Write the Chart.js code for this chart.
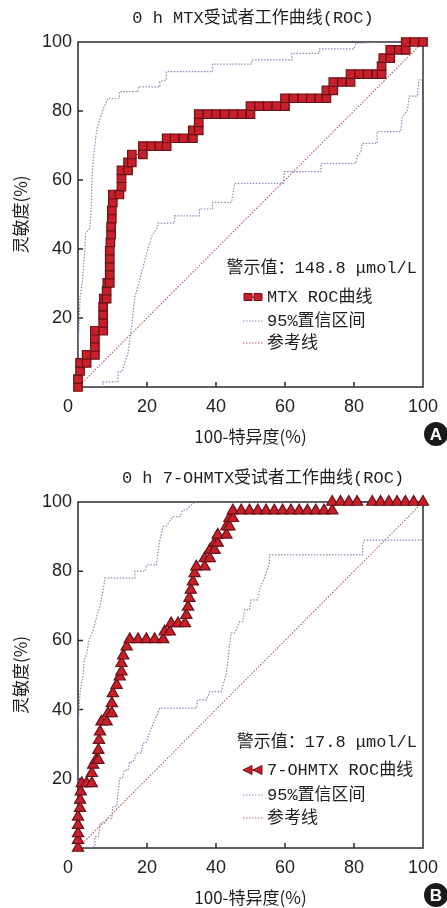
<!DOCTYPE html>
<html>
<head>
<meta charset="utf-8">
<script src="https://cdn.jsdelivr.net/npm/chart.js@4.4.1/dist/chart.umd.min.js"></script>
<style>
  body { margin: 0; background: #fff; }
  #wrap { width: 447px; height: 908px; }
  canvas { display: block; }
</style>
</head>
<body>
<div id="wrap">
  <canvas id="chartA" width="447" height="454"></canvas>
  <canvas id="chartB" width="447" height="454"></canvas>
</div>
<script>
// tick values (both axes, both panels)
const xTickValues = [0, 20, 40, 60, 80, 100];
const yTickValues = [0, 20, 40, 60, 80, 100];

// A: 0 h MTX  -- [100-specificity, sensitivity]
const mtxRoc = [[0,0],[0,2.3],[0.6,4.7],[0.6,7.0],[2.5,7.0],[2.5,9.3],[4.9,9.3],[4.9,11.6],[4.9,14.0],[4.9,16.3],
  [7.3,16.3],[7.3,18.6],[7.3,20.9],[7.3,23.3],[7.5,25.6],[8.3,25.6],[8.3,27.9],[8.5,30.2],[9.2,30.2],[9.2,32.6],
  [9.2,34.9],[9.2,37.2],[9.2,39.5],[9.4,41.9],[9.6,44.2],[9.6,46.5],[9.8,48.8],[9.8,51.2],[10.1,53.5],[10.1,55.8],
  [12.0,55.8],[12.6,58.1],[12.6,60.5],[12.6,62.8],[14.5,62.8],[14.5,65.1],[15.6,65.1],[15.6,67.4],[18.8,67.4],[18.8,69.8],
  [21.2,69.8],[23.6,69.8],[25.7,69.8],[25.7,72.1],[28.0,72.1],[30.6,72.1],[33.3,72.1],[33.3,74.4],[35.0,74.4],[35.0,76.7],
  [35.0,79.1],[37.5,79.1],[40.0,79.1],[42.5,79.1],[45.0,79.1],[47.5,79.1],[50.0,79.1],[50.0,81.4],[52.5,81.4],[55.0,81.4],
  [57.5,81.4],[60.0,81.4],[60.0,83.7],[62.5,83.7],[65.0,83.7],[67.5,83.7],[70.0,83.7],[72.0,83.7],[72.0,86.0],[74.0,86.0],
  [74.0,88.4],[76.5,88.4],[79.0,88.4],[79.0,90.7],[81.5,90.7],[84.0,90.7],[86.5,90.7],[88.0,90.7],[88.0,93.0],[88.5,95.3],
  [90.5,95.3],[90.5,97.7],[93.0,97.7],[95.0,97.7],[95.0,100],[97.5,100],[100,100]];
const mtxUpper = [[0,0],[0,10],[0.6,26],[1.2,30],[2,40],[2.2,44.6],[3.5,46],[3.9,54],[4,60],[4.4,65.8],[5.4,74.5],
  [7.2,80.3],[8.7,83.7],[12,83.7],[12,85.6],[17.4,85.6],[17.4,87],[23.7,87],[23.7,88.5],[25.6,89],[25.6,91.4],[39,91.4],
  [39,93.6],[50.4,93.6],[50.4,94.8],[62,94.8],[62,96.7],[70,96.7],[70,98],[80,98],[80.6,99.6],[88,100],[100,100]];
const mtxLower = [[0,0],[7.2,0],[7.2,1.5],[11.6,1.5],[11.6,4.4],[12.7,4.4],[14.5,9.8],[15.5,17.5],[16.5,26.2],[17.9,31],
  [19.9,38.8],[21.3,43.6],[23.2,46.5],[23.2,47.5],[28,47.5],[28,49.6],[35.2,49.6],[35.2,51.6],[39,51.6],[39,53.5],
  [44.5,53.5],[45.4,59],[59.5,59],[59.8,62.4],[70.4,62.4],[70.4,64.8],[80.5,64.8],[81,67],[82,68],[82.4,70.6],[86.7,70.6],
  [86.7,74],[93.5,74],[94,78.3],[95.5,80.3],[96,84.3],[98.4,84.3],[98.8,89],[100,89],[100,100]];

// B: 0 h 7-OHMTX
const ohRoc = [[0,0],[0,2.3],[0,4.2],[0,6.6],[0,9.0],[0.6,11.5],[0.6,13.9],[0.8,16.3],[1.1,18.7],[2.5,18.7],[4.0,18.7],
  [4.0,21.6],[4.4,24.0],[5.2,25.4],[5.9,25.4],[5.9,28.3],[6.1,31.2],[6.4,33.6],[6.8,36.5],[8.3,36.5],[8.7,38.9],[9.8,38.9],
  [9.8,41.8],[10.1,44.7],[11.2,47.1],[12.1,49.5],[12.6,51.0],[12.6,53.4],[13.1,55.6],[14.1,58.2],[15.0,60.3],[17.4,60.3],
  [19.8,60.3],[22.2,60.3],[24.7,60.3],[25.1,62.5],[26.6,62.5],[27.0,64.9],[29.0,64.9],[31.0,64.9],[31.4,67.3],[31.9,69.7],
  [32.3,72.2],[32.7,74.6],[33.3,77.0],[33.8,79.4],[34.3,81.3],[36.7,81.3],[36.7,83.7],[38.2,83.7],[38.2,86.1],[39.6,86.1],
  [39.6,88.2],[40.5,88.2],[40.5,90.5],[43.0,90.5],[43.0,92.9],[43.9,92.9],[43.9,95.3],[44.9,95.3],[44.9,97.5],[47.3,97.5],
  [49.7,97.5],[52.1,97.5],[54.5,97.5],[56.9,97.5],[59.3,97.5],[61.7,97.5],[64.1,97.5],[66.5,97.5],[68.9,97.5],[71.3,97.5],
  [73.7,97.5],[73.7,100],[76.1,100],[78.5,100],[80.9,100],[85.3,100],[87.7,100],[90.1,100],[92.5,100],[94.9,100],[97.3,100],[100,100]];
const ohUpper = [[0,0],[0,35],[0.6,45],[1.5,50],[1.8,54.3],[2.5,56],[3.2,60.1],[4.4,63],[5.4,66.8],[6.4,70],[7.3,74.6],
  [7.8,78],[16.5,78],[16.5,80],[19.4,80],[19.9,81.8],[22.7,81.8],[23.2,85.6],[23.7,89],[24.7,92.9],[25.6,93],[27.5,95.8],
  [29.5,95.8],[30.4,97.7],[31.3,97.7],[33.3,99.6],[34.3,100],[100,100]];
const ohLower = [[0,0],[3.5,0],[4.9,0.5],[4.9,3.3],[5.9,3.3],[6.4,7.2],[7.8,7.2],[8.7,8.6],[9.8,8.6],[10.1,12],[11.2,12],
  [11.7,16.8],[12.1,20.1],[12.8,20.1],[13.5,22.5],[14.5,22.5],[15,24.9],[16,24.9],[17,27.4],[18.4,27.4],[18.8,30.3],
  [19.7,30.3],[20.8,33.6],[22.3,37],[23.7,40.4],[34.3,40.4],[34.7,42.8],[37.2,42.8],[38.2,45.2],[41.5,45.2],[43,50.5],
  [43.9,58.2],[44.4,62.1],[45.4,62.1],[46.8,65.4],[47.7,65.4],[48.3,68.8],[49.7,68.8],[50.2,71.7],[52.1,71.7],[52.6,74.6],
  [53.6,77],[54.5,79.4],[55.5,82.3],[55.5,84.7],[82.5,84.7],[82.5,87.6],[83,89],[100,89]];

const refLine = [[0,0],[100,100]];

const legendLabels = ['95%置信区间', '参考线'];
const xTitle = '100-特异度(%)';
const yTitle = '灵敏度(%)';

// colours
const rocFill = '#c81f28';
const rocEdge = '#6a1119';
const rocLine = '#3b3a8a';
const ciColor = '#8a8bbb';
const refColor = '#b5605c';

const monoCjk = "'Liberation Mono', 'Noto Sans CJK SC', monospace";
const cjkFont = "'Noto Sans CJK SC', 'Liberation Sans', sans-serif";

const toPts = arr => arr.map(p => ({ x: p[0], y: p[1] }));

// box + inward ticks, titles, legend
const rocDecor = {
  id: 'rocDecor',
  beforeDatasetsDraw(chart) {
    const { ctx, chartArea: a } = chart;
    const xs = chart.scales.x, ys = chart.scales.y;
    ctx.save();
    ctx.strokeStyle = '#2a2a2a';
    ctx.lineWidth = 1.5;
    ctx.strokeRect(a.left, a.top, a.right - a.left, a.bottom - a.top);
    ctx.beginPath();
    xTickValues.forEach(v => {
      if (v <= 0 || v >= 100) return;
      const p = xs.getPixelForValue(v);
      ctx.moveTo(p, a.bottom); ctx.lineTo(p, a.bottom - 5);
    });
    yTickValues.forEach(v => {
      if (v <= 0 || v >= 100) return;
      const p = ys.getPixelForValue(v);
      ctx.moveTo(a.left, p); ctx.lineTo(a.left + 5, p);
    });
    ctx.stroke();
    ctx.restore();
  },
  afterDraw(chart, args, o) {
    const { ctx, chartArea: a } = chart;
    ctx.save();
    ctx.fillStyle = '#1e1e1e';
    ctx.textBaseline = 'middle';

    // title
    ctx.font = `17px ${monoCjk}`;
    ctx.textAlign = 'center';
    ctx.fillText(o.title, o.titleX, o.titleY);

    // axis titles
    ctx.font = `17px ${cjkFont}`;
    ctx.fillText(xTitle, (a.left + a.right) / 2, a.bottom + 50);
    ctx.save();
    ctx.translate(21, (a.top + a.bottom) / 2);
    ctx.rotate(-Math.PI / 2);
    ctx.fillText(yTitle, 0, 0);
    ctx.restore();

    // cut-off value
    ctx.font = `17px ${monoCjk}`;
    ctx.textAlign = 'right';
    ctx.fillText(o.cutoff, 417, o.cutoffY);

    // legend
    ctx.textAlign = 'left';
    ctx.fillText(o.rocLabel, 267, o.legendY[0]);
    ctx.fillText(legendLabels[0], 267, o.legendY[1]);
    ctx.fillText(legendLabels[1], 267, o.legendY[2]);

    let y = o.legendY[0];
    ctx.strokeStyle = rocLine; ctx.lineWidth = 1;
    ctx.beginPath(); ctx.moveTo(244, y); ctx.lineTo(262, y); ctx.stroke();
    ctx.fillStyle = rocFill; ctx.strokeStyle = rocEdge;
    [248, 258].forEach(cx => {
      ctx.beginPath();
      if (o.marker === 'rect') {
        ctx.rect(cx - 4, y - 3.5, 8, 7);
      } else {
        ctx.moveTo(cx - 5, y); ctx.lineTo(cx + 4, y - 4.5); ctx.lineTo(cx + 4, y + 4.5); ctx.closePath();
      }
      ctx.fill(); ctx.stroke();
    });

    ctx.setLineDash([1.5, 1.5]);
    ctx.lineWidth = 1.2;
    ctx.strokeStyle = ciColor;
    ctx.beginPath(); ctx.moveTo(243, o.legendY[1]); ctx.lineTo(263, o.legendY[1]); ctx.stroke();
    ctx.strokeStyle = refColor;
    ctx.beginPath(); ctx.moveTo(243, o.legendY[2]); ctx.lineTo(263, o.legendY[2]); ctx.stroke();
    ctx.setLineDash([]);

    // panel letter
    ctx.fillStyle = '#1a1a1a';
    ctx.beginPath(); ctx.arc(436, a.bottom + 47, 12, 0, Math.PI * 2); ctx.fill();
    ctx.fillStyle = '#fff';
    ctx.font = "bold 17px 'Liberation Sans', sans-serif";
    ctx.textAlign = 'center';
    ctx.fillText(o.letter, 436, a.bottom + 48);
    ctx.restore();
  }
};

function makeChart(id, roc, upper, lower, marker, deco, topPad, bottomH) {
  return new Chart(document.getElementById(id), {
    type: 'scatter',
    data: {
      datasets: [
        {
          data: toPts(roc), showLine: true, clip: false,
          borderColor: rocLine, borderWidth: 1,
          pointStyle: marker, pointRadius: marker === 'rect' ? 6 : 6.5,
          pointBackgroundColor: rocFill, pointBorderColor: rocEdge, pointBorderWidth: 1.2
        },
        { data: toPts(upper), showLine: true, borderColor: ciColor, borderWidth: 1.2, borderDash: [1.5, 1.5], pointRadius: 0 },
        { data: toPts(lower), showLine: true, borderColor: ciColor, borderWidth: 1.2, borderDash: [1.5, 1.5], pointRadius: 0 },
        { data: toPts(refLine), showLine: true, borderColor: refColor, borderWidth: 1.1, borderDash: [1.5, 1.5], pointRadius: 0 }
      ]
    },
    options: {
      responsive: false,
      animation: false,
      events: [],
      layout: { padding: { top: topPad, right: 23, left: 0, bottom: 0 } },
      plugins: { legend: { display: false }, tooltip: { enabled: false }, rocDecor: deco },
      scales: {
        x: {
          type: 'linear', min: 0, max: 100,
          afterBuildTicks: s => { s.ticks = xTickValues.map(v => ({ value: v })); },
          afterFit: s => { s.height = bottomH; },
          grid: { display: false, drawTicks: false },
          border: { display: false },
          ticks: {
            padding: 9, color: '#222',
            font: { family: "'Liberation Sans', Arial, sans-serif", size: 18 },
            callback: v => (v === 0 ? '0    ' : String(v))
          }
        },
        y: {
          type: 'linear', min: 0, max: 100,
          afterBuildTicks: s => { s.ticks = yTickValues.map(v => ({ value: v })); },
          afterFit: s => { s.width = 78; },
          grid: { display: false, drawTicks: false },
          border: { display: false },
          ticks: {
            padding: 6, color: '#222',
            font: { family: "'Liberation Sans', Arial, sans-serif", size: 18 },
            callback: v => (v === 0 ? '' : String(v))
          }
        }
      }
    },
    plugins: [rocDecor]
  });
}

makeChart('chartA', mtxRoc, mtxUpper, mtxLower, 'rect', {
  title: '0 h MTX受试者工作曲线(ROC)', titleX: 253, titleY: 18,
  cutoff: '警示值：148.8 μmol/L', cutoffY: 268,
  rocLabel: 'MTX ROC曲线', legendY: [297, 321, 343], marker: 'rect', letter: 'A'
}, 42, 67);

makeChart('chartB', ohRoc, ohUpper, ohLower, 'triangle', {
  title: '0 h 7-OHMTX受试者工作曲线(ROC)', titleX: 263, titleY: 24,
  cutoff: '警示值：17.8 μmol/L', cutoffY: 288,
  rocLabel: '7-OHMTX ROC曲线', legendY: [316, 341, 364], marker: 'tri', letter: 'B'
}, 48, 60);
</script>
</body>
</html>
